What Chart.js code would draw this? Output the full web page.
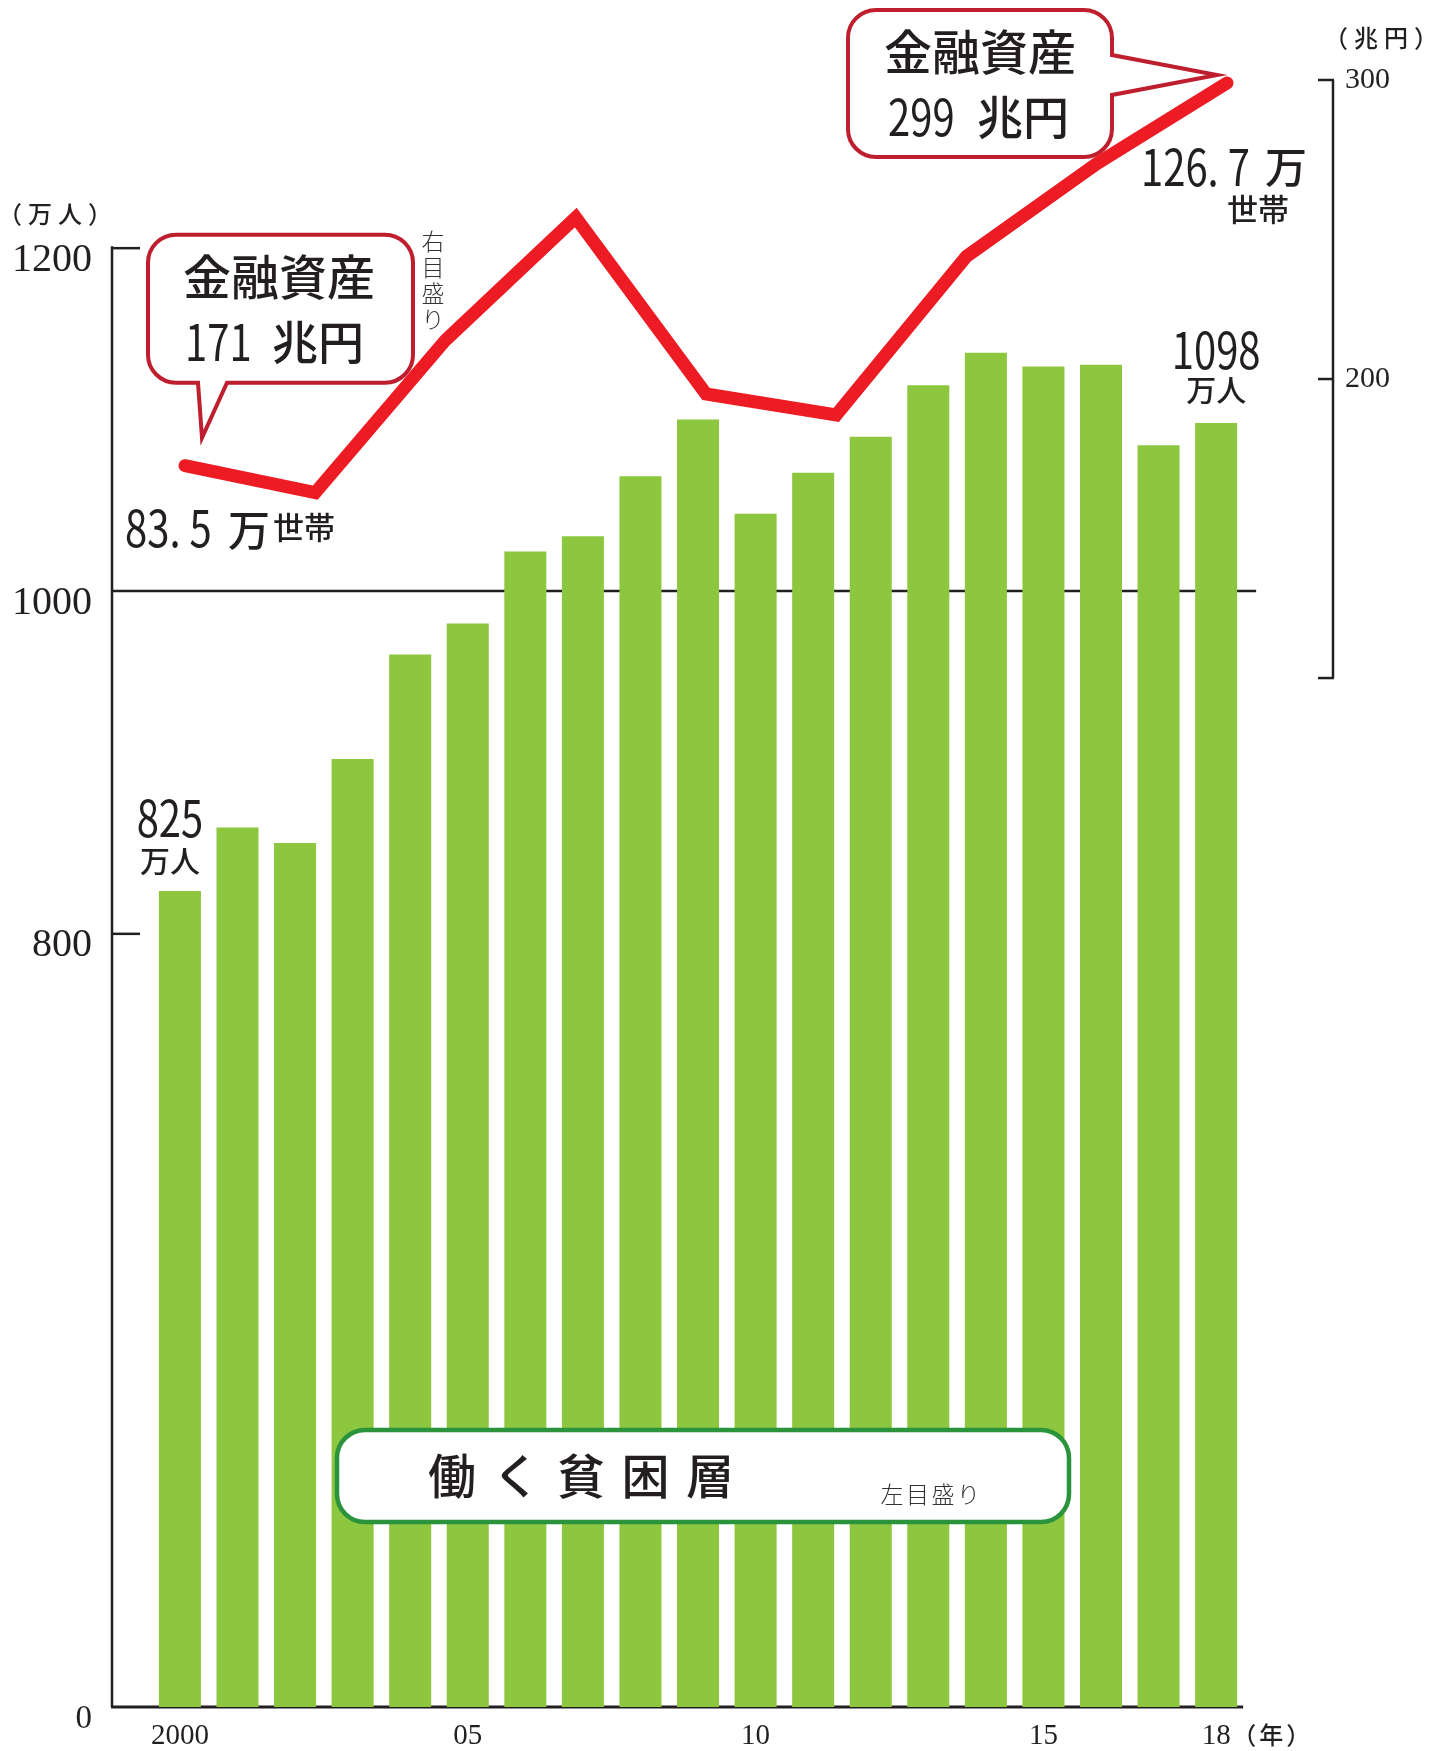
<!DOCTYPE html>
<html lang="ja">
<head>
<meta charset="utf-8">
<title>働く貧困層と金融資産</title>
<script src="https://cdn.jsdelivr.net/npm/chart.js@4.4.1/dist/chart.umd.min.js"></script>
<style>
  html, body { margin: 0; padding: 0; background: #fff; }
  canvas { display: block; }
</style>
</head>
<body>
<canvas id="chart" width="1440" height="1751"></canvas>
<script>
// 働く貧困層 (万人, left scale)
const years = [2000, 2001, 2002, 2003, 2004, 2005, 2006, 2007, 2008, 2009,
  2010, 2011, 2012, 2013, 2014, 2015, 2016, 2017, 2018];
const workingPoor = [825, 862, 853, 902, 963, 981, 1023, 1032, 1067, 1100,
  1045, 1069, 1090, 1120, 1139, 1131, 1132, 1085, 1098];

// 金融資産 (兆円, right scale)
const surveyYears = ["2000", "2003", "2005", "2007", "2009", "2011", "2013", "2015", "2017"];
const financialAssets = [171, 162, 213, 254, 195, 188, 241, 272, 299];

const xTickYears = [2000, 2005, 2010, 2015, 2018];
const xTickLabels = ["2000", "05", "10", "15", "18"];
const leftTicks = [0, 800, 1000, 1200];
const rightTicks = [100, 200, 300];
const rightTickLabels = ["", "200", "300"];

const householdsFirst = "83. 5";
const householdsLast = "126. 7";

const INK = "#231f20";
const JP = '"Noto Sans CJK JP", "Noto Sans", sans-serif';
const SERIF = '"Liberation Serif", "DejaVu Serif", serif';

// linear scale with a break: 0..breakAt is squeezed into the bottom share
class BrokenLinearScale extends Chart.LinearScale {
  breakPixel() {
    return this.bottom - (this.bottom - this.top) * this.options.lowerShare;
  }
  getPixelForValue(value) {
    if (value === null || value === undefined || Number.isNaN(value)) return NaN;
    const brk = this.options.breakAt;
    const yb = this.breakPixel();
    if (value <= brk) {
      return this.bottom - ((value - this.min) / (brk - this.min)) * (this.bottom - yb);
    }
    return yb - ((value - brk) / (this.max - brk)) * (yb - this.top);
  }
  getValueForPixel(pixel) {
    const brk = this.options.breakAt;
    const yb = this.breakPixel();
    if (pixel >= yb) {
      return this.min + ((this.bottom - pixel) / (this.bottom - yb)) * (brk - this.min);
    }
    return brk + ((yb - pixel) / (yb - this.top)) * (this.max - brk);
  }
}
BrokenLinearScale.id = "brokenLinear";
BrokenLinearScale.defaults = Chart.LinearScale.defaults;
Chart.register(BrokenLinearScale);

function text(ctx, s, x, y, size, o = {}) {
  ctx.save();
  ctx.font = `${o.weight || 500} ${size}px ${o.family || JP}`;
  ctx.fillStyle = o.color || INK;
  ctx.textBaseline = "middle";
  ctx.textAlign = "left";
  if (o.spacing) ctx.letterSpacing = o.spacing + "px";
  const sx = o.sx || 1;
  const w = (ctx.measureText(s).width - (o.spacing || 0)) * sx;
  let left = x;
  if (o.align === "center") left = x - w / 2;
  else if (o.align === "right") left = x - w;
  ctx.translate(left, y);
  ctx.scale(sx, 1);
  ctx.fillText(s, 0, 0);
  ctx.restore();
  return left + w;
}

function seg(ctx, x1, y1, x2, y2, w) {
  ctx.beginPath();
  ctx.moveTo(x1, y1);
  ctx.lineTo(x2, y2);
  ctx.lineWidth = w;
  ctx.strokeStyle = INK;
  ctx.stroke();
}

function callout(ctx, b, tail) {
  const { x, y, w, h, r } = b;
  ctx.save();
  ctx.beginPath();
  ctx.moveTo(x + r, y);
  ctx.lineTo(x + w - r, y);
  ctx.arcTo(x + w, y, x + w, y + r, r);
  if (tail.side === "right") {
    ctx.lineTo(x + w, tail.a);
    ctx.lineTo(tail.tip[0], tail.tip[1]);
    ctx.lineTo(x + w, tail.c);
  }
  ctx.lineTo(x + w, y + h - r);
  ctx.arcTo(x + w, y + h, x + w - r, y + h, r);
  if (tail.side === "bottom") {
    ctx.lineTo(tail.c, y + h);
    ctx.lineTo(tail.tip[0], tail.tip[1]);
    ctx.lineTo(tail.a, y + h);
  }
  ctx.lineTo(x + r, y + h);
  ctx.arcTo(x, y + h, x, y + h - r, r);
  ctx.lineTo(x, y + r);
  ctx.arcTo(x, y, x + r, y, r);
  ctx.closePath();
  ctx.fillStyle = "#fff";
  ctx.fill();
  ctx.lineWidth = 4;
  ctx.lineJoin = "miter";
  ctx.strokeStyle = "#be1e2d";
  ctx.stroke();
  ctx.restore();
}

function roundBox(ctx, x, y, w, h, r, color) {
  ctx.save();
  ctx.beginPath();
  ctx.roundRect(x, y, w, h, r);
  ctx.fillStyle = "#fff";
  ctx.fill();
  ctx.lineWidth = 4.5;
  ctx.strokeStyle = color;
  ctx.stroke();
  ctx.restore();
}

const decorations = {
  id: "decorations",
  beforeDatasetsDraw(chart) {
    const { ctx, chartArea: area, scales: { x, y, x2, yR } } = chart;
    const lastX = x.getPixelForValue(years[years.length - 1]);

    // left axis, its ticks and the 1000 line
    seg(ctx, area.left, y.getPixelForValue(1200) - 2, area.left, area.bottom, 2.5);
    [1200, 800].forEach((v) => {
      const py = y.getPixelForValue(v);
      seg(ctx, area.left, py, area.left + 28, py, 2.5);
    });
    const p1000 = y.getPixelForValue(1000);
    seg(ctx, area.left, p1000, lastX + 40, p1000, 2.5);

    // bottom axis
    seg(ctx, area.left - 1, area.bottom, lastX + 27, area.bottom, 3);

    // right bracket
    const rx = area.right;
    seg(ctx, rx, yR.getPixelForValue(rightTicks[0]), rx, yR.getPixelForValue(rightTicks[rightTicks.length - 1]), 2.5);
    rightTicks.forEach((v) => {
      const py = yR.getPixelForValue(v);
      seg(ctx, rx - 15, py, rx + 1, py, 2.5);
    });

    // callouts
    const p0 = { x: x2.getPixelForValue(0), y: yR.getPixelForValue(financialAssets[0]) };
    const n = financialAssets.length - 1;
    const pn = { x: x2.getPixelForValue(n), y: yR.getPixelForValue(financialAssets[n]) };

    const b1 = { x: p0.x - 37, y: p0.y - 231, w: 265, h: 148, r: 28 };
    callout(ctx, b1, { side: "bottom", a: b1.x + 50, c: b1.x + 79, tip: [p0.x + 17, p0.y - 28] });
    text(ctx, "金融資産", b1.x + 131, b1.y + 42, 48, { align: "center" });
    text(ctx, String(financialAssets[0]), b1.x + 37, b1.y + 107, 50, { sx: 0.8, weight: 400 });
    text(ctx, "兆円", b1.x + 124, b1.y + 107, 46);

    const b2 = { x: pn.x - 379, y: pn.y - 73, w: 264, h: 147, r: 28 };
    callout(ctx, b2, { side: "right", a: b2.y + 45, c: b2.y + 85, tip: [pn.x - 10, pn.y - 8] });
    text(ctx, "金融資産", b2.x + 132, b2.y + 42, 48, { align: "center" });
    text(ctx, String(financialAssets[n]), b2.x + 40, b2.y + 107, 50, { sx: 0.8, weight: 400 });
    text(ctx, "兆円", b2.x + 129, b2.y + 107, 46);
  },
  afterDatasetsDraw(chart) {
    const { ctx, scales: { x, y, x2, yR } } = chart;

    // unit labels
    text(ctx, "（万人）", 55, 214, 24, { align: "center", spacing: 6 });
    text(ctx, "（兆円）", 1381, 38, 24, { align: "center", spacing: 6 });
    text(ctx, "（年）", x.getPixelForValue(years[years.length - 1]) + 55, 1735, 24, { align: "center", spacing: 3 });

    // first / last bar values
    const fx = x.getPixelForValue(years[0]);
    const fy = y.getPixelForValue(workingPoor[0]);
    text(ctx, String(workingPoor[0]), fx - 10, fy - 73, 50, { align: "center", sx: 0.8, weight: 400 });
    text(ctx, "万人", fx - 10, fy - 30, 30, { align: "center" });
    const lx = x.getPixelForValue(years[years.length - 1]);
    const ly = y.getPixelForValue(workingPoor[workingPoor.length - 1]);
    text(ctx, String(workingPoor[workingPoor.length - 1]), lx, ly - 73, 50, { align: "center", sx: 0.8, weight: 400 });
    text(ctx, "万人", lx, ly - 33, 30, { align: "center" });

    // household counts next to the line ends
    const p0 = { x: x2.getPixelForValue(0), y: yR.getPixelForValue(financialAssets[0]) };
    const n = financialAssets.length - 1;
    const pn = { x: x2.getPixelForValue(n), y: yR.getPixelForValue(financialAssets[n]) };
    text(ctx, householdsFirst, p0.x - 60, p0.y + 62, 50, { sx: 0.8, weight: 400 });
    text(ctx, "万", p0.x + 43, p0.y + 64, 42);
    text(ctx, "世帯", p0.x + 88, p0.y + 61, 31);
    text(ctx, householdsLast, pn.x - 86, pn.y + 84, 50, { sx: 0.8, weight: 400 });
    text(ctx, "万", pn.x + 38, pn.y + 84, 42);
    text(ctx, "世帯", pn.x + 31, pn.y + 126, 31, { align: "center" });

    // 右目盛り (vertical)
    ["右", "目", "盛", "り"].forEach((ch, i) => {
      text(ctx, ch, 433, 241 + i * 26, 23, { align: "center", weight: 300, color: "#333" });
    });

    // legend box for the bars
    roundBox(ctx, 337, 1430, 732, 92, 28, "#2a933c");
    ["働", "く", "貧", "困", "層"].forEach((ch, i) => {
      text(ctx, ch, 452 + i * 64.5, 1476, 48, { align: "center" });
    });
    ["左", "目", "盛", "り"].forEach((ch, i) => {
      text(ctx, ch, 892 + i * 25.5, 1494, 23, { align: "center", weight: 300, color: "#333" });
    });
  },
};

new Chart(document.getElementById("chart"), {
  type: "bar",
  data: {
    datasets: [
      {
        type: "line",
        label: "金融資産",
        data: financialAssets.map((v, i) => ({ x: i, y: v })),
        xAxisID: "x2",
        yAxisID: "yR",
        borderColor: "#ed1c24",
        borderWidth: 13,
        borderCapStyle: "round",
        borderJoinStyle: "miter",
        pointRadius: 0,
        tension: 0,
        clip: false,
        order: 0,
      },
      {
        type: "bar",
        label: "働く貧困層",
        data: years.map((yr, i) => ({ x: yr, y: workingPoor[i] })),
        xAxisID: "x",
        yAxisID: "y",
        backgroundColor: "#8dc63f",
        grouped: false,
        barPercentage: 0.73,
        categoryPercentage: 1,
        order: 1,
      },
    ],
  },
  options: {
    responsive: false,
    animation: false,
    devicePixelRatio: 1,
    layout: { padding: { top: 50, left: 0, right: 0, bottom: 0 } },
    plugins: { legend: { display: false }, tooltip: { enabled: false } },
    scales: {
      x: {
        type: "linear",
        position: "bottom",
        min: 1998.82,
        max: 2020.03,
        offset: false,
        grid: { display: false, drawTicks: false },
        border: { display: false },
        afterBuildTicks: (s) => { s.ticks = xTickYears.map((v) => ({ value: v })); },
        afterFit: (s) => { s.height = 44; },
        ticks: {
          autoSkip: false,
          maxRotation: 0,
          padding: 12,
          color: INK,
          font: { family: SERIF, size: 29 },
          callback: (v) => xTickLabels[xTickYears.indexOf(v)] ?? "",
        },
      },
      x2: { type: "linear", display: false, offset: false, min: -0.5605, max: 8.814 },
      y: {
        type: "brokenLinear",
        position: "left",
        min: 0,
        max: 1315.6,
        breakAt: 800,
        lowerShare: 0.4666,
        grid: { display: false, drawTicks: false },
        border: { display: false },
        afterBuildTicks: (s) => { s.ticks = leftTicks.map((v) => ({ value: v })); },
        afterFit: (s) => { s.width = 112; },
        ticks: {
          padding: 20,
          labelOffset: 12,
          color: INK,
          font: (c) => ({ family: SERIF, size: c.tick && c.tick.value === 0 ? 33 : 40 }),
          callback: (v) => String(v),
        },
      },
      yR: {
        type: "linear",
        position: "right",
        min: -244.1,
        max: 310.03,
        grid: { display: false, drawTicks: false },
        border: { display: false },
        afterBuildTicks: (s) => { s.ticks = rightTicks.map((v) => ({ value: v })); },
        afterFit: (s) => { s.width = 107; },
        ticks: {
          padding: 12,
          color: INK,
          font: { family: SERIF, size: 30 },
          callback: (v) => rightTickLabels[rightTicks.indexOf(v)] ?? "",
        },
      },
    },
  },
  plugins: [decorations],
});
</script>
</body>
</html>
